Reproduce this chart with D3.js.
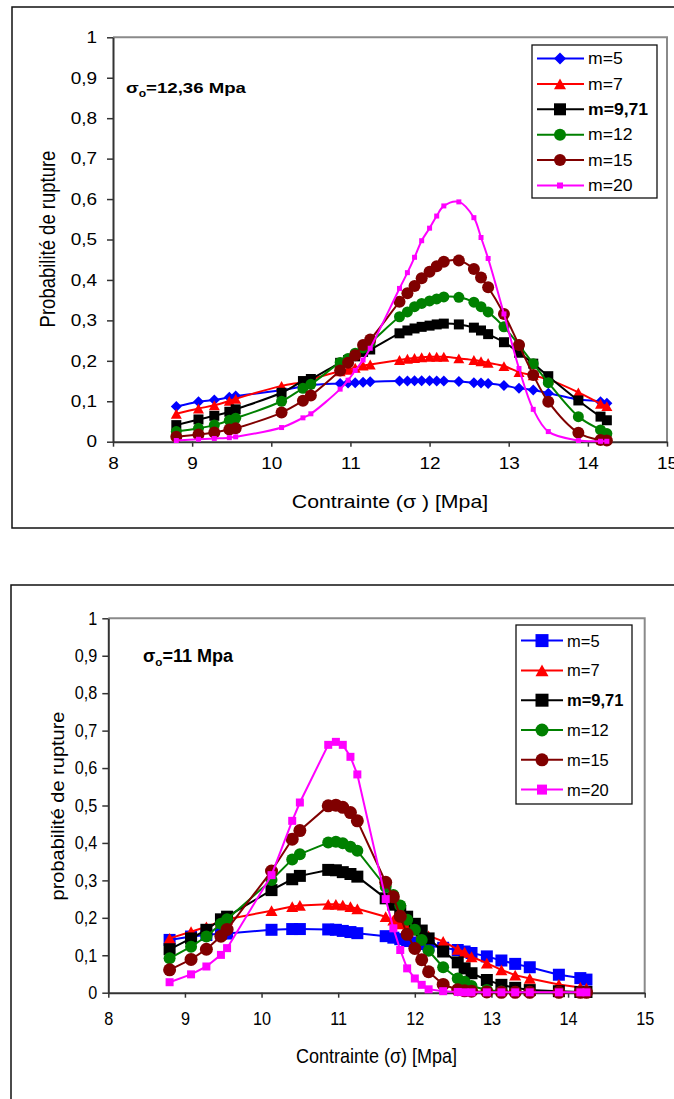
<!DOCTYPE html>
<html><head><meta charset="utf-8">
<script src="https://cdn.jsdelivr.net/npm/d3@7"></script>
<style>html,body{margin:0;padding:0;background:#fff;} svg{display:block;}</style>
</head><body>
<svg id="fig" width="674" height="1099"></svg>
<script>
// Stress levels (MPa) at which the failure probability was evaluated
const stress = [8.8, 9.08, 9.28, 9.47, 9.55, 10.13, 10.4, 10.5, 10.87, 10.97, 11.06, 11.16, 11.25,
  11.62, 11.72, 11.81, 11.9, 12.0, 12.09, 12.18, 12.37, 12.56, 12.65, 12.74, 12.94, 13.13, 13.31,
  13.5, 13.88, 14.16, 14.24];

const seriesLabels = ["m=5", "m=7", "m=9,71", "m=12", "m=15", "m=20"];
const seriesColors = ["#0000ff", "#ff0000", "#000000", "#008000", "#800000", "#ff00ff"];
const xTicks = [8, 9, 10, 11, 12, 13, 14, 15];
const yTicks = [0, 0.1, 0.2, 0.3, 0.4, 0.5, 0.6, 0.7, 0.8, 0.9, 1];

// sigma_0 = 12,36 MPa
const s1236_m5   = [0.087, 0.099, 0.103, 0.110, 0.113, 0.127, 0.137, 0.140, 0.144, 0.145, 0.146, 0.147, 0.148, 0.150, 0.150, 0.151, 0.151, 0.151, 0.150, 0.150, 0.149, 0.146, 0.145, 0.144, 0.139, 0.132, 0.128, 0.120, 0.105, 0.099, 0.095];
const s1236_m7   = [0.069, 0.082, 0.090, 0.101, 0.106, 0.138, 0.148, 0.154, 0.174, 0.178, 0.183, 0.188, 0.191, 0.202, 0.205, 0.207, 0.209, 0.210, 0.210, 0.210, 0.206, 0.202, 0.199, 0.195, 0.187, 0.172, 0.164, 0.154, 0.122, 0.094, 0.088];
const s1236_m971 = [0.041, 0.055, 0.064, 0.074, 0.080, 0.121, 0.150, 0.155, 0.195, 0.202, 0.211, 0.222, 0.228, 0.268, 0.275, 0.280, 0.284, 0.287, 0.290, 0.292, 0.290, 0.282, 0.275, 0.266, 0.246, 0.220, 0.193, 0.162, 0.102, 0.062, 0.053];
const s1236_m12  = [0.025, 0.033, 0.041, 0.053, 0.058, 0.100, 0.132, 0.142, 0.196, 0.206, 0.219, 0.232, 0.245, 0.309, 0.321, 0.334, 0.342, 0.348, 0.353, 0.358, 0.357, 0.345, 0.334, 0.321, 0.284, 0.239, 0.193, 0.146, 0.062, 0.029, 0.020];
const s1236_m15  = [0.012, 0.018, 0.023, 0.030, 0.033, 0.072, 0.101, 0.114, 0.176, 0.195, 0.214, 0.239, 0.253, 0.346, 0.367, 0.385, 0.404, 0.420, 0.434, 0.445, 0.448, 0.427, 0.406, 0.382, 0.316, 0.239, 0.165, 0.099, 0.022, 0.004, 0.003];
const s1236_m20  = [0.003, 0.006, 0.008, 0.010, 0.012, 0.035, 0.059, 0.069, 0.130, 0.152, 0.176, 0.202, 0.231, 0.379, 0.418, 0.456, 0.497, 0.528, 0.558, 0.583, 0.593, 0.554, 0.505, 0.453, 0.316, 0.181, 0.080, 0.025, 0.003, 0.001, 0.001];

// sigma_0 = 11 MPa
const s11_m5   = [0.141, 0.150, 0.154, 0.158, 0.158, 0.168, 0.170, 0.170, 0.169, 0.168, 0.165, 0.162, 0.159, 0.151, 0.147, 0.143, 0.138, 0.134, 0.130, 0.126, 0.120, 0.114, 0.110, 0.106, 0.097, 0.086, 0.077, 0.068, 0.048, 0.039, 0.035];
const s11_m7   = [0.145, 0.163, 0.176, 0.190, 0.196, 0.219, 0.230, 0.233, 0.236, 0.236, 0.234, 0.230, 0.224, 0.203, 0.194, 0.184, 0.176, 0.168, 0.160, 0.152, 0.137, 0.116, 0.108, 0.096, 0.079, 0.061, 0.047, 0.038, 0.022, 0.014, 0.012];
const s11_m971 = [0.116, 0.145, 0.168, 0.196, 0.203, 0.274, 0.303, 0.312, 0.328, 0.327, 0.322, 0.317, 0.310, 0.252, 0.235, 0.218, 0.203, 0.184, 0.166, 0.145, 0.110, 0.081, 0.065, 0.052, 0.034, 0.021, 0.013, 0.007, 0.004, 0.002, 0.002];
const s11_m12  = [0.092, 0.123, 0.150, 0.184, 0.196, 0.301, 0.356, 0.370, 0.401, 0.403, 0.399, 0.390, 0.379, 0.283, 0.261, 0.233, 0.195, 0.168, 0.141, 0.112, 0.068, 0.038, 0.029, 0.018, 0.007, 0.003, 0.002, 0.001, 0.001, 0.001, 0.001];
const s11_m15  = [0.061, 0.089, 0.116, 0.151, 0.169, 0.325, 0.410, 0.433, 0.499, 0.501, 0.495, 0.481, 0.459, 0.295, 0.256, 0.204, 0.156, 0.118, 0.088, 0.056, 0.022, 0.008, 0.005, 0.004, 0.002, 0.001, 0.001, 0.001, 0.001, 0.001, 0.001];
const s11_m20  = [0.028, 0.049, 0.070, 0.101, 0.119, 0.314, 0.459, 0.508, 0.662, 0.670, 0.662, 0.630, 0.583, 0.250, 0.172, 0.114, 0.065, 0.038, 0.021, 0.009, 0.004, 0.002, 0.001, 0.001, 0.001, 0.001, 0.001, 0.001, 0.001, 0.001, 0.001];

const FONT = "'Liberation Sans', Arial, sans-serif";
const svg = d3.select("#fig");
const fmtComma = v => (Math.round(v * 10) / 10).toString().replace(".", ",");

function markerPath(type, s) {
  const r = s / 2;
  if (type === "diamond") return `M0,${-r}L${r},0L0,${r}L${-r},0Z`;
  if (type === "triangle") { const h = s * 0.9; return `M0,${-h / 2}L${r},${h / 2}L${-r},${h / 2}Z`; }
  if (type === "square") return `M${-r},${-r}h${s}v${s}h${-s}Z`;
  return `M${r},0A${r},${r} 0 1 1 ${-r},0A${r},${r} 0 1 1 ${r},0Z`;
}

function label(g, x, y, str, o) {
  const t = g.append("text")
    .attr("transform", `translate(${x},${y}) scale(${o.sx || 1},1)` + (o.rot ? " rotate(-90)" : ""))
    .attr("text-anchor", o.anchor || "start")
    .attr("font-family", FONT)
    .attr("font-size", o.size)
    .attr("font-weight", o.bold ? "bold" : "normal")
    .attr("fill", "#000");
  if (o.middle) t.attr("dominant-baseline", "central");
  t.text(str);
  return t;
}

function drawChart(c) {
  const g = svg.append("g");
  // outer chart frame
  g.append("rect").attr("x", c.frame[0]).attr("y", c.frame[1])
    .attr("width", c.frame[2]).attr("height", c.frame[3])
    .attr("fill", "none").attr("stroke", "#111").attr("stroke-width", 1.5);

  const x = d3.scaleLinear().domain([8, 15]).range([c.left, c.right]);
  const y = d3.scaleLinear().domain([0, 1]).range([c.bottom, c.top]);

  // plot area border (top + right)
  g.append("path").attr("d", `M${c.left},${c.top}H${c.right}V${c.bottom}`)
    .attr("fill", "none").attr("stroke", "#8a8a8a").attr("stroke-width", 2);

  const ax = g.append("g").attr("transform", `translate(0,${c.bottom})`)
    .call(d3.axisBottom(x).tickValues(xTicks).tickSize(5).tickSizeOuter(0)
      .tickPadding(c.xPad).tickFormat(d3.format("d")));
  const ay = g.append("g").attr("transform", `translate(${c.left},0)`)
    .call(d3.axisLeft(y).tickValues(yTicks).tickSize(6).tickSizeOuter(0)
      .tickPadding(c.yPad).tickFormat(fmtComma));
  [ax, ay].forEach(a => {
    a.select(".domain").attr("stroke", "#333").attr("stroke-width", 2);
    a.selectAll(".tick line").attr("stroke", "#333").attr("stroke-width", 1.5);
    a.selectAll(".tick text").attr("font-family", FONT).attr("font-size", c.tickSize).attr("fill", "#000")
      .each(function () {
        const t = d3.select(this);
        const tx = +t.attr("x") || 0;
        t.attr("x", null).attr("transform", `translate(${tx},0) scale(${c.sx},1)`);
      });
  });

  // series: line then markers, in legend order
  const line = d3.line().x(d => x(d[0])).y(d => y(d[1]))
    .curve(c.smooth ? d3.curveCatmullRom.alpha(0.5) : d3.curveLinear);
  c.series.forEach((vals, i) => {
    const pts = stress.map((s, j) => [s, vals[j]]);
    const sg = g.append("g");
    sg.append("path").attr("d", line(pts)).attr("fill", "none")
      .attr("stroke", seriesColors[i]).attr("stroke-width", 2).attr("stroke-linejoin", "round");
    sg.selectAll("path.mk").data(pts).join("path").attr("class", "mk")
      .attr("transform", d => `translate(${x(d[0])},${y(d[1])})`)
      .attr("d", markerPath(c.markers[i], c.markerSizes[i]))
      .attr("fill", seriesColors[i]);
  });

  // legend
  const L = c.legend;
  const lg = g.append("g");
  lg.append("rect").attr("x", L.box[0]).attr("y", L.box[1]).attr("width", L.box[2]).attr("height", L.box[3])
    .attr("fill", "#fff").attr("stroke", "#111").attr("stroke-width", 1.3);
  seriesLabels.forEach((name, i) => {
    const yy = L.y0 + i * L.dy;
    lg.append("line").attr("x1", L.l0).attr("x2", L.l1).attr("y1", yy).attr("y2", yy)
      .attr("stroke", seriesColors[i]).attr("stroke-width", 2);
    lg.append("path").attr("transform", `translate(${L.mx},${yy})`)
      .attr("d", markerPath(c.markers[i], c.legendSizes[i])).attr("fill", seriesColors[i]);
    label(lg, L.tx, yy + L.size * 0.36, name, { size: L.size, sx: L.sx, bold: name === "m=9,71" });
  });

  // sigma_0 annotation
  const an = label(g, c.note[0], c.note[1], "", { size: c.noteSize, sx: c.noteSx, bold: true });
  an.append("tspan").text("σ");
  an.append("tspan").attr("font-size", c.noteSize * 0.65).attr("dy", 4).text("o");
  an.append("tspan").attr("dy", -4).text(c.noteText);

  // axis titles
  label(g, c.xTitle[0], c.xTitle[1], c.xTitleText, { size: c.titleSize, sx: c.sx, anchor: "middle" });
  label(g, c.yTitle[0], c.yTitle[1], c.yTitleText, { size: c.titleSize, sx: c.sx, anchor: "middle", rot: true, middle: true });
}

drawChart({
  frame: [12, 7, 700, 521],
  left: 113, right: 667, top: 37.3, bottom: 441.7,
  xPad: 11, yPad: 10, tickSize: 16.5, sx: 1.15, titleSize: 18.5,
  smooth: true,
  series: [s1236_m5, s1236_m7, s1236_m971, s1236_m12, s1236_m15, s1236_m20],
  markers: ["diamond", "triangle", "square", "circle", "circle", "square"],
  markerSizes: [11, 11, 10, 11, 12, 5],
  legendSizes: [12, 12, 12, 12, 12, 6],
  legend: { box: [532, 45, 125, 153], y0: 58.5, dy: 25.4, l0: 537, l1: 584, mx: 560, tx: 588, size: 16, sx: 1.1 },
  note: [126, 93], noteSize: 15.5, noteSx: 1.2, noteText: "=12,36 Mpa",
  xTitle: [390, 508], xTitleText: "Contrainte (σ ) [Mpa]",
  yTitle: [48, 239], yTitleText: "Probabilité de rupture"
});

drawChart({
  frame: [11, 585, 700, 600],
  left: 108.3, right: 644.7, top: 618.3, bottom: 992.7,
  xPad: 15, yPad: 5, tickSize: 18, sx: 0.9, titleSize: 20,
  smooth: false,
  series: [s11_m5, s11_m7, s11_m971, s11_m12, s11_m15, s11_m20],
  markers: ["square", "triangle", "square", "circle", "circle", "square"],
  markerSizes: [12, 12, 12, 12, 13, 8],
  legendSizes: [13, 13, 13, 13, 13, 10],
  legend: { box: [516, 625, 116, 179], y0: 640.6, dy: 29.8, l0: 521, l1: 563, mx: 542, tx: 567, size: 16.5, sx: 1.0 },
  note: [143, 662], noteSize: 18, noteSx: 1.0, noteText: "=11 Mpa",
  xTitle: [376.5, 1063], xTitleText: "Contrainte (σ) [Mpa]",
  yTitle: [58, 806], yTitleText: "probabilité de rupture"
});
</script>
</body></html>
